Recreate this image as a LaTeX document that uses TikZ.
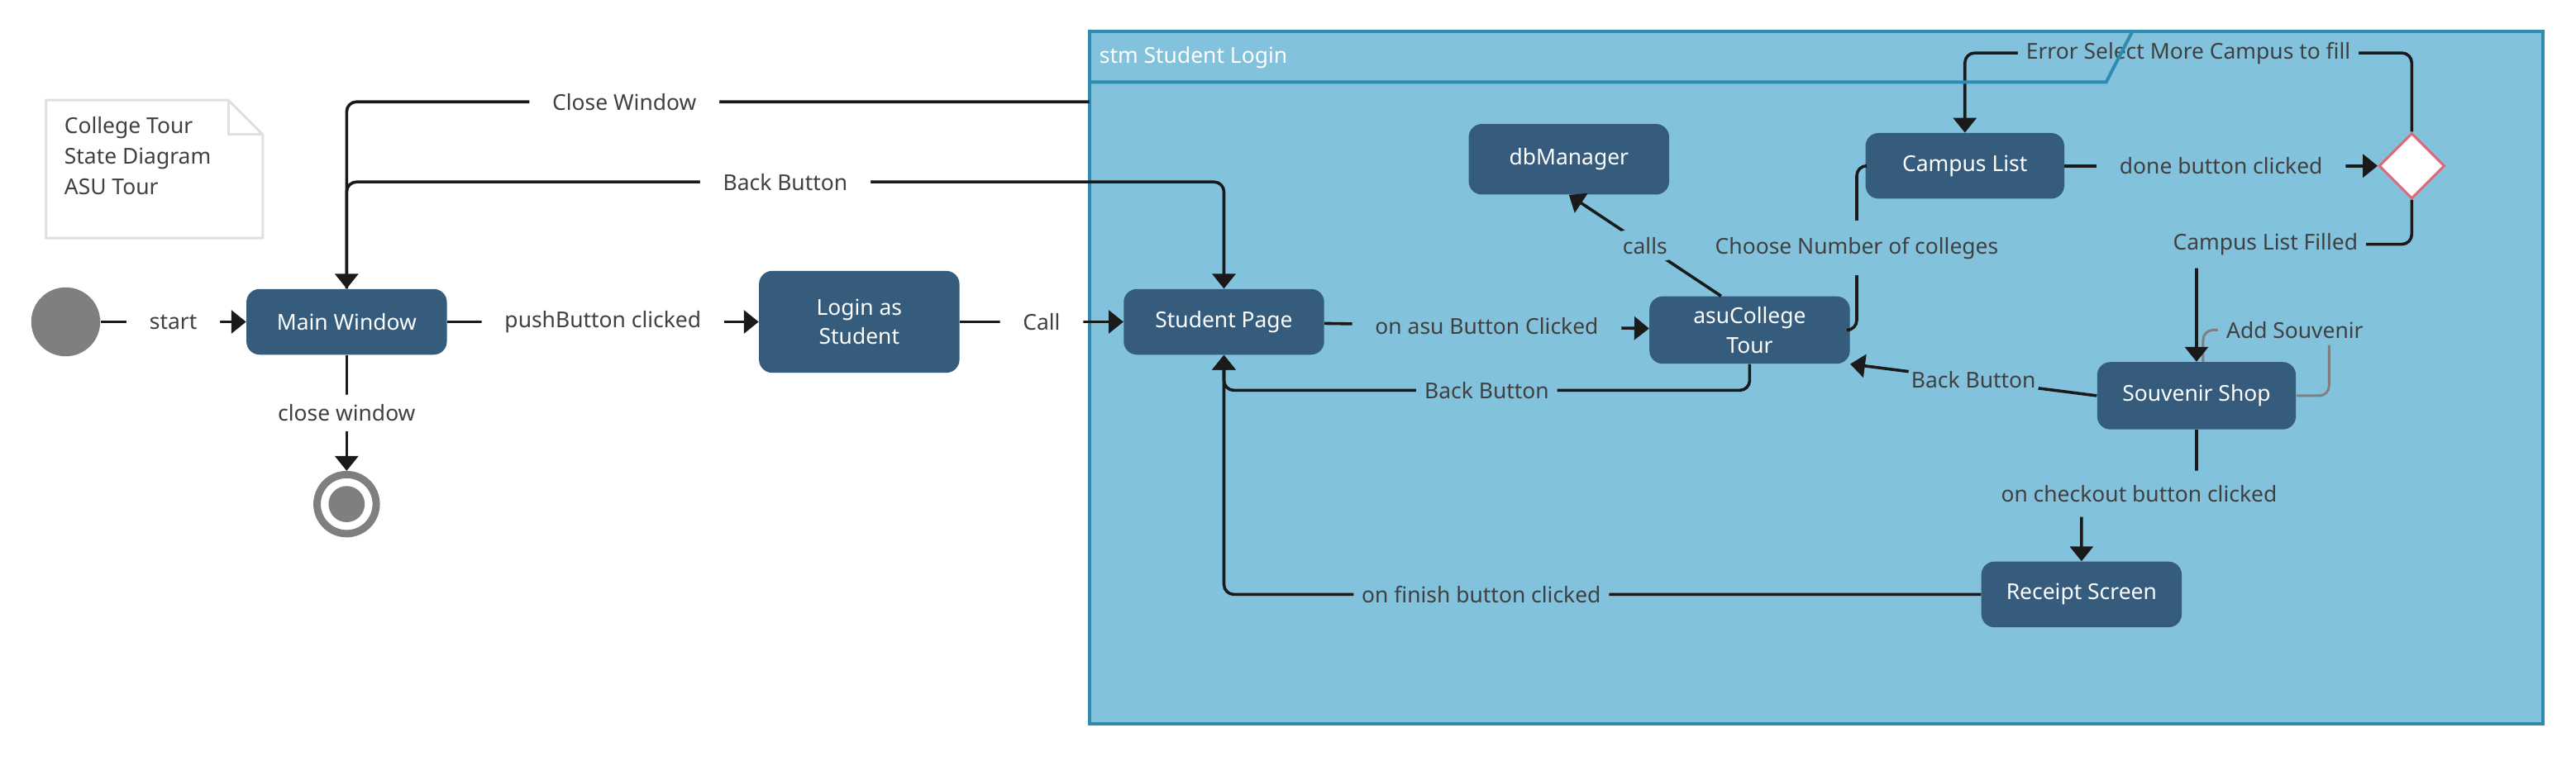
\documentclass[tikz,border=0pt]{standalone}
\usepackage{fontspec}
\setmainfont{Noto Sans}
\usetikzlibrary{arrows.meta,shapes.geometric}
\definecolor{frameBg}{RGB}{130,194,220}
\definecolor{frameEdge}{RGB}{46,139,178}
\definecolor{stateFill}{RGB}{53,91,125}
\definecolor{labelText}{RGB}{64,64,64}
\definecolor{lineBlack}{RGB}{26,26,26}
\definecolor{pseudoGray}{RGB}{127,127,127}
\definecolor{choiceRed}{RGB}{217,108,120}
\definecolor{noteEdge}{RGB}{224,224,224}
\begin{document}
\begin{tikzpicture}[x=1pt, y=-1pt, font=\fontsize{13.3}{18}\selectfont,
  state/.style={fill=stateFill, rounded corners=8pt, text=white, align=center, minimum width=122pt, minimum height=40pt},
  trans/.style={draw=lineBlack, line width=1.8pt, rounded corners=6pt, -{Triangle[length=9pt,width=14pt]}},
  plain/.style={draw=lineBlack, line width=1.8pt, rounded corners=6pt},
  lbl/.style={fill=frameBg, text=labelText, inner xsep=5pt, inner ysep=4pt},
  lblout/.style={lbl, fill=white, inner xsep=14pt}]
\useasboundingbox (0,0) rectangle (1568,463.4);

\draw[noteEdge, fill=white, line width=1.5pt] (28,61) -- (139,61) -- (160,82) -- (160,145) -- (28,145) -- cycle;
\draw[noteEdge, line width=1.5pt] (139,61) -- (139,82) -- (160,82);
\node[anchor=north west, align=left, text=labelText, inner sep=0pt, font=\fontsize{13.3}{18.5}\selectfont] (note) at (39,71) {College Tour\\State Diagram\\ASU Tour};

\draw[frameEdge, fill=frameBg, line width=2pt] (663,19) rectangle (1548,441);
\node[anchor=west, text=white, inner sep=0pt] (title) at (669,35) {\textbf{stm} Student Login};
\coordinate (frameW) at (663,62);

\node[circle, fill=pseudoGray, minimum size=42pt] (init) at (40,196) {};
\node[state] (mainw) at (211,196) {Main Window};
\node[circle, draw=pseudoGray, line width=4.5pt, fill=white, minimum size=36pt,
  path picture={\fill[pseudoGray] (path picture bounding box.center) circle (11pt);}] (final) at (211,307) {};
\node[state, minimum height=62pt] (login) at (523,196) {Login as\\Student};
\node[state] (stud) at (745,196) {Student Page};
\node[state, minimum height=41pt] (asu) at (1065,201) {asuCollege\\Tour};
\node[state, minimum height=43pt] (dbm) at (955,97) {dbManager};
\node[state, minimum width=121pt] (campus) at (1196,101) {Campus List};
\node[diamond, aspect=1, draw=choiceRed, fill=white, line width=1.5pt, minimum size=40pt, inner sep=0pt] (choice) at (1468,101) {};
\node[state, minimum width=121pt, minimum height=41pt] (souv) at (1337,241) {Souvenir Shop};
\node[state] (receipt) at (1267,362) {Receipt Screen};

\draw[trans] (init) -- node[lblout] {start} (mainw);
\draw[trans] (mainw) -- node[lblout] {pushButton clicked} (login);
\draw[trans] (login) -- node[lblout] {Call} (stud);
\draw[trans] (mainw) -- node[lblout, inner xsep=5pt, inner ysep=6pt] {close window} (final);
\draw[trans] (frameW) -| node[lblout, pos=0.313] {Close Window} (mainw.north);
\draw[trans] (mainw.north) -- ++(0,-65) -| node[lblout, pos=0.25] {Back Button} (stud.north);

\draw[trans] (stud) -- node[lbl, inner xsep=14pt] {on asu Button Clicked} (asu);
\draw[trans] (asu.130) -- node[lbl] {calls} (dbm.south);
\draw[plain] (asu.east) -- ++(4,0) |- node[lbl, pos=0.25, inner ysep=10pt] {Choose Number of colleges} (campus.west);
\draw[trans] (campus) -- node[lbl, inner xsep=14pt] {done button clicked} (choice);
\draw[trans] (choice.north) -- ++(0,-48) -| node[lbl, pos=0.25] {Error Select More Campus to fill} (campus.north);
\draw[pseudoGray, line width=1.5pt, rounded corners=6pt] (souv.east) -- ++(20,0) -- ++(0,-40) -| node[lbl, pos=0.136] {Add Souvenir} ([xshift=4pt]souv.north);
\draw[trans] (choice.south) -- ++(0,27) -| node[lbl, pos=0.34, inner ysep=8pt] {Campus List Filled} (souv.north);
\draw[trans] (souv.west) -- node[lbl, inner xsep=2pt] {Back Button} (asu.south east);
\draw[trans] (souv.south) -- ++(0,39) -| node[lbl, pos=0.25, inner ysep=9pt] {on checkout button clicked} (receipt.north);
\draw[trans] (receipt.west) -| node[lbl, pos=0.33] {on finish button clicked} (stud.south);
\draw[trans] (asu.south) -- ++(0,16) -| node[lbl, pos=0.25] {Back Button} (stud.south);

\draw[frameEdge, line width=2pt] (663,50) -- (1282,50) -- (1298,19);
\end{tikzpicture}
\end{document}
